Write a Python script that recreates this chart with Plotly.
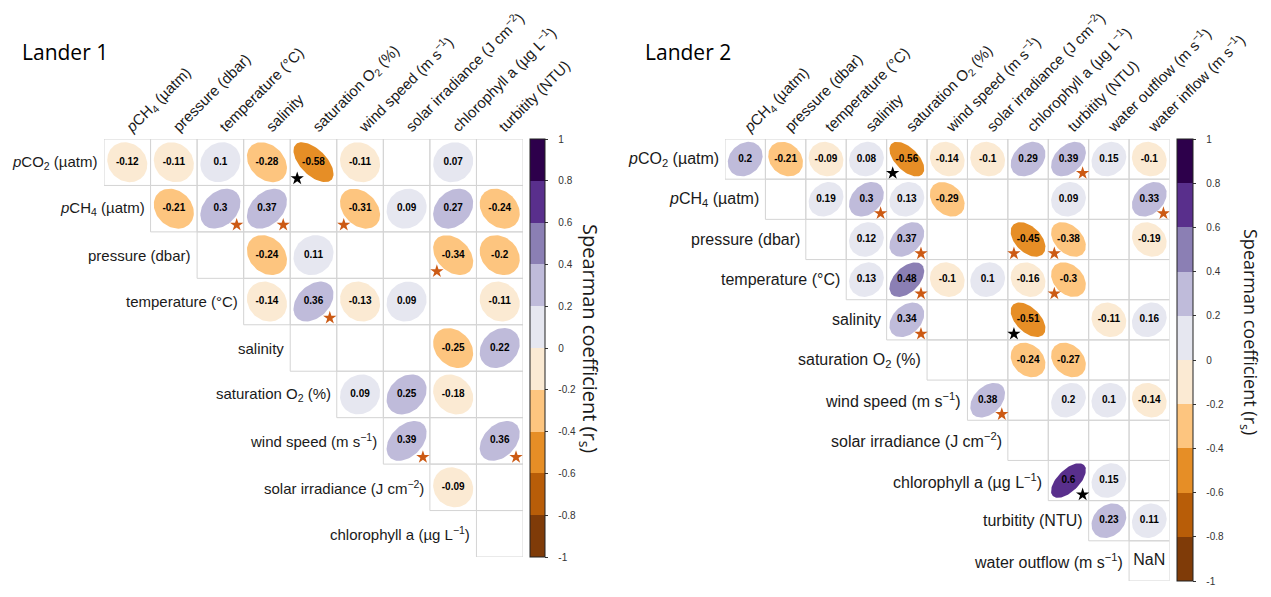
import numpy as np
import plotly.graph_objects as go

# page is shown with the browser's 8px body margin, so the figure is sized to fill the rest
OFF = 8
W, H = 1271 - OFF, 597 - OFF

# ---- Lander 1 data (upper triangle, row i holds columns i..n-1) ----
L1_COLS = ['<i>p</i>CH<sub>4</sub> (µatm)', 'pressure (dbar)', 'temperature (°C)', 'salinity',
           'saturation O<sub>2</sub> (%)', 'wind speed (m s<sup>−1</sup>)',
           'solar irradiance (J cm<sup>−2</sup>)', 'chlorophyll a (µg L<sup>−1</sup>)', 'turbitity (NTU)']
L1_ROWS = ['<i>p</i>CO<sub>2</sub> (µatm)', '<i>p</i>CH<sub>4</sub> (µatm)', 'pressure (dbar)',
           'temperature (°C)', 'salinity', 'saturation O<sub>2</sub> (%)',
           'wind speed (m s<sup>−1</sup>)', 'solar irradiance (J cm<sup>−2</sup>)',
           'chlorophyll a (µg L<sup>−1</sup>)']
L1_R = [
    [-0.12, -0.11, 0.1, -0.28, -0.58, -0.11, None, 0.07, None],
    [-0.21, 0.3, 0.37, None, -0.31, 0.09, 0.27, -0.24],
    [None, -0.24, 0.11, None, None, -0.34, -0.202],
    [-0.14, 0.36, -0.13, 0.09, None, -0.11],
    [None, None, None, -0.25, 0.22],
    [0.09, 0.25, -0.18, None],
    [0.39, None, 0.36],
    [-0.09, None],
    [None],
]
# (row, column, level) level 1 = p<0.05 (orange star), 2 = p<0.01 (black star)
L1_SIG = [(0, 4, 2), (1, 2, 1), (1, 3, 1), (1, 5, 1), (2, 7, 1), (3, 4, 1), (6, 6, 1), (6, 8, 1)]

# ---- Lander 2 data ----
L2_COLS = ['<i>p</i>CH<sub>4</sub> (µatm)', 'pressure (dbar)', 'temperature (°C)', 'salinity',
           'saturation O<sub>2</sub> (%)', 'wind speed (m s<sup>−1</sup>)',
           'solar irradiance (J cm<sup>−2</sup>)', 'chlorophyll a (µg L<sup>−1</sup>)', 'turbitity (NTU)',
           'water outflow (m s<sup>−1</sup>)', 'water inflow (m s<sup>−1</sup>)']
L2_ROWS = ['<i>p</i>CO<sub>2</sub> (µatm)', '<i>p</i>CH<sub>4</sub> (µatm)', 'pressure (dbar)',
           'temperature (°C)', 'salinity', 'saturation O<sub>2</sub> (%)',
           'wind speed (m s<sup>−1</sup>)', 'solar irradiance (J cm<sup>−2</sup>)',
           'chlorophyll a (µg L<sup>−1</sup>)', 'turbitity (NTU)', 'water outflow (m s<sup>−1</sup>)']
L2_R = [
    [0.203, -0.21, -0.09, 0.08, -0.56, -0.14, -0.1, 0.29, 0.39, 0.15, -0.1],
    [None, 0.19, 0.3, 0.13, -0.29, None, None, 0.09, None, 0.33],
    [None, 0.12, 0.37, None, None, -0.45, -0.38, None, -0.19],
    [0.13, 0.48, -0.1, 0.1, -0.16, -0.3, None, None],
    [0.34, None, None, -0.51, None, -0.11, 0.16],
    [None, None, -0.24, -0.27, None, None],
    [0.38, None, 0.197, 0.1, -0.14],
    [None, None, None, None],
    [0.602, 0.15, None],
    [0.23, 0.11],
    [float('nan')],
]
L2_SIG = [(0, 4, 2), (0, 8, 1), (1, 3, 1), (1, 10, 1), (2, 4, 1), (2, 7, 1), (2, 8, 1),
          (3, 4, 1), (3, 8, 1), (4, 4, 1), (4, 7, 2), (6, 6, 1), (8, 8, 2)]

CB_TICKS = [-1, -0.8, -0.6, -0.4, -0.2, 0, 0.2, 0.4, 0.6, 0.8, 1]

# 10-class PuOr ramp, -1 (brown) to +1 (purple)
PALETTE = ['#7F3B08', '#B85D08', '#E68E26', '#FDC57F', '#FBEAD3',
           '#E6E7F0', '#BFBBDA', '#8B7FB4', '#592F8C', '#2D004B']
STAR_COL = {1: '#CC5A14', 2: '#000000'}
FONT = 'Liberation Sans, Arial, sans-serif'


def px(x):
    return (x - OFF) / W


def py(y):
    return 1 - (y - OFF) / H


def bin_color(r):
    k = int(np.floor((r + 1) / 0.2 + 1e-9))
    return PALETTE[min(max(k, 0), 9)]


def fmt(r):
    return ('%.2f' % r).rstrip('0').rstrip('.')


def draw_panel(fig, rows, cols, R, sig, xa, ya, box, cb_x, cb_thick, title, tpos, cbt_pos, cbt_size,
               row_size, col_size):
    x0, x1, y0, y1 = box
    n = len(cols)
    xr, yr = xa.replace('axis', ''), ya.replace('axis', '')
    fig.update_layout(**{
        xa: dict(domain=[px(x0), px(x1)], range=[-0.5, n - 0.5], side='top', anchor=yr,
                 tickmode='array', tickvals=list(range(n)), ticktext=cols, tickangle=-45,
                 showgrid=False, zeroline=False, showline=False, ticks='',
                 tickfont=dict(family=FONT, size=col_size, color='#1a1a1a'), automargin=False),
        ya: dict(domain=[py(y1), py(y0)], range=[-(len(rows) - 0.5), 0.5], anchor=xr,
                 visible=False, automargin=False),
    })
    t = np.linspace(0, 2 * np.pi, 80)
    tx, ty, tt, nx, ny = [], [], [], [], []
    for i, row in enumerate(R):
        for k, r in enumerate(row):
            j = i + k
            fig.add_shape(type='rect', xref=xr, yref=yr, x0=j - 0.5, x1=j + 0.5, y0=-i - 0.5, y1=-i + 0.5,
                          line=dict(color='#D4D4D4', width=1), layer='below')
            if r is None:
                continue
            if np.isnan(r):
                nx.append(j); ny.append(-i)
                continue
            d = np.arccos(r)
            ex = j + 0.43 * np.cos(t + d / 2)
            ey = -i + 0.43 * np.cos(t - d / 2)
            fig.add_trace(go.Scatter(x=ex, y=ey, xaxis=xr, yaxis=yr, mode='lines', fill='toself',
                                     fillcolor=bin_color(r), line=dict(width=0), hoverinfo='skip',
                                     showlegend=False))
            tx.append(j); ty.append(-i); tt.append('<b>%s</b>' % fmt(r))
    fig.add_trace(go.Scatter(x=tx, y=ty, xaxis=xr, yaxis=yr, mode='text', text=tt,
                             textfont=dict(family=FONT, size=10, color='black'),
                             hoverinfo='skip', showlegend=False))
    if nx:
        fig.add_trace(go.Scatter(x=nx, y=ny, xaxis=xr, yaxis=yr, mode='text', text=['NaN'] * len(nx),
                                 textfont=dict(family=FONT, size=row_size, color='#1a1a1a'),
                                 hoverinfo='skip', showlegend=False))
    # significance stars, on the side of the cell the ellipse leaves open
    for lvl in (1, 2):
        sx, sy = [], []
        for (i, j, l) in sig:
            if l != lvl:
                continue
            r = R[i][j - i]
            sx.append(j + (0.35 if r > 0 else -0.35))
            sy.append(-i - 0.35)
        fig.add_trace(go.Scatter(x=sx, y=sy, xaxis=xr, yaxis=yr, mode='markers',
                                 marker=dict(symbol='star', size=10, color=STAR_COL[lvl], line=dict(width=0)),
                                 hoverinfo='skip', showlegend=False))
    # row labels next to the first cell of each row
    for i, lab in enumerate(rows):
        fig.add_annotation(x=i - 0.5, y=-i, xref=xr, yref=yr, text=lab, showarrow=False,
                           xanchor='right', yanchor='middle', xshift=-4,
                           font=dict(family=FONT, size=row_size, color='#1a1a1a'))
    # colour bar
    scale = []
    for k, c in enumerate(PALETTE):
        scale += [[k / 10, c], [(k + 1) / 10, c]]
    pad = '\u00a0' * 3
    fig.add_trace(go.Scatter(x=[0], y=[0], xaxis=xr, yaxis=yr, mode='markers', hoverinfo='skip',
                             showlegend=False,
                             marker=dict(size=1, opacity=0, color=[0], cmin=-1, cmax=1, colorscale=scale,
                                         showscale=True,
                                         colorbar=dict(x=px(cb_x), xanchor='left', xpad=0, ypad=0,
                                                       thickness=cb_thick, lenmode='pixels', len=y1 - y0,
                                                       y=py(y0), yanchor='top',
                                                       outlinewidth=1, outlinecolor='#222',
                                                       tickmode='array', tickvals=CB_TICKS,
                                                       ticktext=[pad + fmt(v) for v in CB_TICKS],
                                                       ticks='outside', ticklen=3, tickcolor='#333',
                                                       tickfont=dict(family=FONT, size=10, color='#333')))))
    fig.add_annotation(x=px(tpos[0]), y=py(tpos[1]), xref='paper', yref='paper', text=title,
                       showarrow=False, xanchor='left', yanchor='middle',
                       font=dict(family='Open Sans, sans-serif', size=21, color='black'))
    fig.add_annotation(x=px(cbt_pos[0]), y=py(cbt_pos[1]), xref='paper', yref='paper',
                       text='Spearman coefficient (r<sub>s</sub>)', showarrow=False, textangle=90,
                       xanchor='center', yanchor='middle',
                       font=dict(family='Open Sans, sans-serif', size=cbt_size, color='#1a1a1a'))


fig = go.Figure()
draw_panel(fig, L1_ROWS, L1_COLS, L1_R, L1_SIG, 'xaxis', 'yaxis', (104, 523, 139, 557),
           530, 15, 'Lander 1', (20, 52), (590, 338), 20, 15, 15)
draw_panel(fig, L2_ROWS, L2_COLS, L2_R, L2_SIG, 'xaxis2', 'yaxis2', (725, 1169.5, 139, 581),
           1177, 16, 'Lander 2', (643, 52), (1250, 332), 18, 16, 15)

fig.update_layout(width=W, height=H, margin=dict(l=0, r=0, t=0, b=0),
                  paper_bgcolor='white', plot_bgcolor='rgba(0,0,0,0)', showlegend=False)
fig.write_html('out.html')
